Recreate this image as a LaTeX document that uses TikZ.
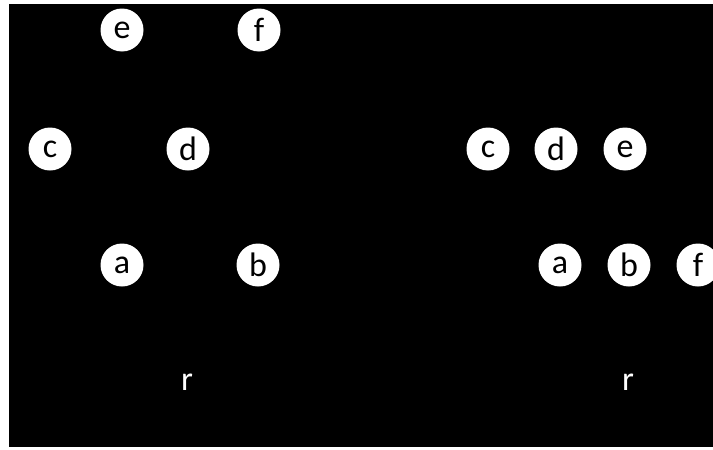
\documentclass[tikz,border=0pt]{standalone}
\usepackage{fontspec}
\setmainfont{Carlito}
\begin{document}
\begin{tikzpicture}[x=1pt,y=-1pt,
  vtx/.style={circle,fill=white,draw=none,minimum size=43pt,inner sep=0pt,font=\fontsize{34}{34}\selectfont,text=black},
  rootlbl/.style={font=\fontsize{34}{34}\selectfont,text=white,inner sep=0pt}]
\useasboundingbox (0,0) rectangle (713,450);
\fill[black] (9,4) rectangle (713,447);
% left tree
\node[vtx] (Le) at (122,30) {e};
\node[vtx] (Lf) at (259,30) {f};
\node[vtx] (Lc) at (50,149) {c};
\node[vtx] (Ld) at (188,149) {d};
\node[vtx] (La) at (122,265) {a};
\node[vtx] (Lb) at (258,265) {b};
\node[rootlbl] (Lr) at (187,382) {r};
% right tree
\node[vtx] (Rc) at (488,149) {c};
\node[vtx] (Rd) at (556,149) {d};
\node[vtx] (Re) at (625,149) {e};
\node[vtx] (Ra) at (560,265) {a};
\node[vtx] (Rb) at (629,265) {b};
\node[vtx] (Rf) at (698,265) {f};
\node[rootlbl] (Rr) at (628,382) {r};
\end{tikzpicture}
\end{document}
